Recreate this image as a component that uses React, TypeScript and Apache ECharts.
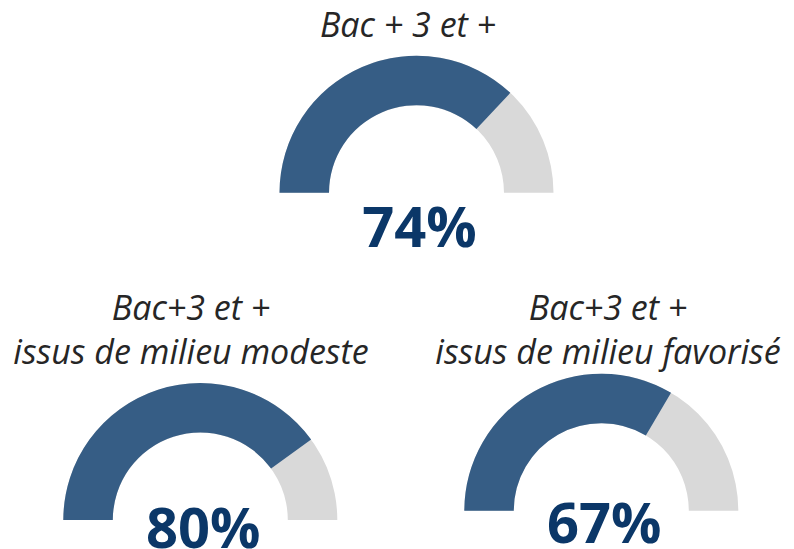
import React, { useEffect, useRef } from "react";
import * as echarts from "echarts";

const labels: string[] = [
  "Bac + 3 et +",
  "Bac+3 et +\nissus de milieu modeste",
  "Bac+3 et +\nissus de milieu favorisé",
];
const values: number[] = [74, 80, 67];
const maxValue = 100;

const BLUE = "#365d85";
const GREY = "#d9d9d9";
const NAVY = "#0b3768";
const TEXT = "#262626";

// layout (pixels)
const centers: [number, number][] = [
  [416.5, 192.7],
  [200.3, 520],
  [601.3, 510.7],
];
const detailOffsets: [number, number][] = [
  [3, 32],
  [3, 6],
  [3, 10],
];
const titlePos: { x: number; y: number }[] = [
  { x: 408, y: 2 },
  { x: 191, y: 285 },
  { x: 608, y: 285 },
];

export default function App() {
  const ref = useRef<HTMLDivElement>(null);
  useEffect(() => {
    if (!ref.current) return;
    const chart = echarts.init(ref.current, null, { renderer: "svg" });
    const series = values.map((v, i) => ({
      type: "gauge",
      center: centers[i],
      radius: 137,
      startAngle: 180,
      endAngle: 0,
      min: 0,
      max: maxValue,
      splitNumber: 1,
      progress: { show: true, width: 49.5, roundCap: false, itemStyle: { color: BLUE } },
      axisLine: { roundCap: false, lineStyle: { width: 49.5, color: [[1, GREY]] } },
      pointer: { show: false },
      anchor: { show: false },
      axisTick: { show: false },
      splitLine: { show: false },
      axisLabel: { show: false },
      title: { show: false },
      detail: {
        show: true,
        offsetCenter: detailOffsets[i],
        formatter: "{value}%",
        fontSize: 56,
        fontWeight: "bold",
        fontFamily: "Open Sans",
        color: NAVY,
      },
      data: [{ value: v, name: labels[i] }],
    }));
    const titles = labels.map((t, i) => ({
      text: t,
      left: titlePos[i].x,
      top: titlePos[i].y,
      textAlign: "center",
      padding: 0,
      textStyle: {
        fontFamily: "Open Sans",
        fontStyle: "italic",
        fontWeight: "normal",
        fontSize: 34,
        lineHeight: 44,
        color: TEXT,
      },
    }));
    chart.setOption({
      animation: false,
      backgroundColor: "#ffffff",
      title: titles,
      series,
    });
    return () => chart.dispose();
  }, []);
  return (
    <div
      ref={ref}
      style={{ position: "fixed", left: 0, top: 0, width: 794, height: 549 }}
    />
  );
}
